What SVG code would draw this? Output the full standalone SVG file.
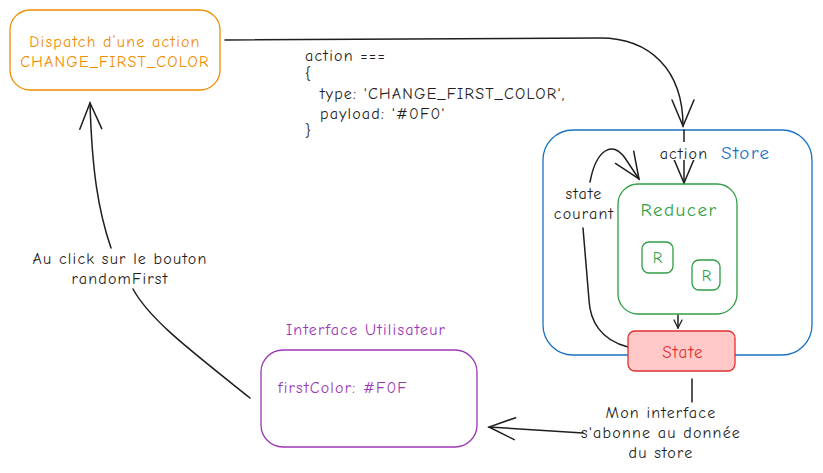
<svg xmlns="http://www.w3.org/2000/svg" width="823" height="473" viewBox="0 0 823 473">
<defs>
<style>
text{font-family:"Comic Neue","Liberation Sans","DejaVu Sans",sans-serif;font-size:16px;letter-spacing:1.2px;fill:#1e1e1e}
.c{text-anchor:middle}
.big{font-size:19px;letter-spacing:1.5px}
.box{fill:none;stroke-width:1.3}
.ln{fill:none;stroke:#1e1e1e;stroke-width:1.5;stroke-linecap:round}
</style>
<marker id="ah" viewBox="0 0 30 30" refX="28" refY="15" markerWidth="30" markerHeight="30" markerUnits="userSpaceOnUse" orient="auto">
<path d="M2,4 L28,15 L2,26" fill="none" stroke="#1e1e1e" stroke-width="1.5" stroke-linecap="round"/>
</marker>
<marker id="ahs" viewBox="0 0 10 10" refX="9" refY="5" markerWidth="10" markerHeight="10" markerUnits="userSpaceOnUse" orient="auto">
<path d="M1,1 L9,5 L1,9" fill="none" stroke="#1e1e1e" stroke-width="1.3" stroke-linecap="round"/>
</marker>
</defs>
<rect width="823" height="473" fill="#ffffff"/>

<g id="store">
<rect x="543" y="130" width="269" height="225" rx="30" class="box" stroke="#1971c2"/>
<text x="721" y="159" class="big" style="fill:#1971c2">Store</text>
</g>

<g id="connectors">
<path d="M225,40 L600,38 C650,38 683,70 683,126" class="ln" marker-end="url(#ah)"/>
<path d="M684,130 L684,183" class="ln" marker-end="url(#ah)"/>
<path d="M678,315 L678,328" class="ln" marker-end="url(#ahs)"/>
<path d="M628,347 C600,340 590,320 589,300 L583,228" class="ln"/>
<path d="M590,182 C596,150 612,140 625,158 L639,179" class="ln" marker-end="url(#ah)"/>
<path d="M692,379 L692,402" class="ln"/>
<path d="M583,433 L489,427" class="ln" marker-end="url(#ah)"/>
<path d="M250,398 C190,350 150,320 133,289" class="ln"/>
<path d="M111,248 C98,210 92,170 90,103" class="ln" marker-end="url(#ah)"/>
</g>

<g id="dispatch">
<rect x="10" y="10" width="210" height="80" rx="20" class="box" stroke="#f08c00"/>
<text x="115" y="47" class="c" style="fill:#f08c00">Dispatch d’une action</text>
<text x="115" y="67" class="c" style="fill:#f08c00">CHANGE_FIRST_COLOR</text>
</g>

<g id="code">
<text x="305" y="61">action ===</text>
<text x="305" y="79">{</text>
<text x="320" y="99">type: 'CHANGE_FIRST_COLOR',</text>
<text x="320" y="119">payload: '#0F0'</text>
<text x="305" y="136">}</text>
</g>

<g id="action-label">
<rect x="657" y="142" width="54" height="18" fill="#ffffff"/>
<text x="684" y="159" class="c">action</text>
</g>

<g id="state-courant-label">
<text x="584" y="199" class="c">state</text>
<text x="584" y="219" class="c">courant</text>
</g>

<g id="reducer">
<rect x="618" y="184" width="119" height="130" rx="20" class="box" stroke="#2f9e44"/>
<text x="679" y="216" class="c big" style="fill:#2f9e44">Reducer</text>
</g>
<g id="r1">
<rect x="642" y="242" width="31" height="31" rx="7" class="box" stroke="#2f9e44"/>
<text x="658" y="263" class="c" style="fill:#2f9e44">R</text>
</g>
<g id="r2">
<rect x="692" y="260" width="28" height="30" rx="7" class="box" stroke="#2f9e44"/>
<text x="707" y="281" class="c" style="fill:#2f9e44">R</text>
</g>

<g id="state">
<rect x="628" y="331" width="107" height="40" rx="7" stroke="#e03131" fill="#ffc9c9" stroke-width="1.3"/>
<text x="683" y="358" class="c" style="fill:#e03131;font-size:17px">State</text>
</g>

<g id="interface">
<text x="366" y="335" class="c" style="fill:#9c36b5">Interface Utilisateur</text>
<rect x="261" y="350" width="216" height="97" rx="22" class="box" stroke="#9c36b5"/>
<text x="278" y="393" style="fill:#9c36b5">firstColor: #F0F</text>
</g>

<g id="subscribe-label">
<text x="661" y="418" class="c">Mon interface</text>
<text x="661" y="438" class="c">s'abonne au donnée</text>
<text x="661" y="458" class="c">du store</text>
</g>

<g id="click-label">
<text x="120" y="264" class="c">Au click sur le bouton</text>
<text x="120" y="284" class="c">randomFirst</text>
</g>
</svg>
